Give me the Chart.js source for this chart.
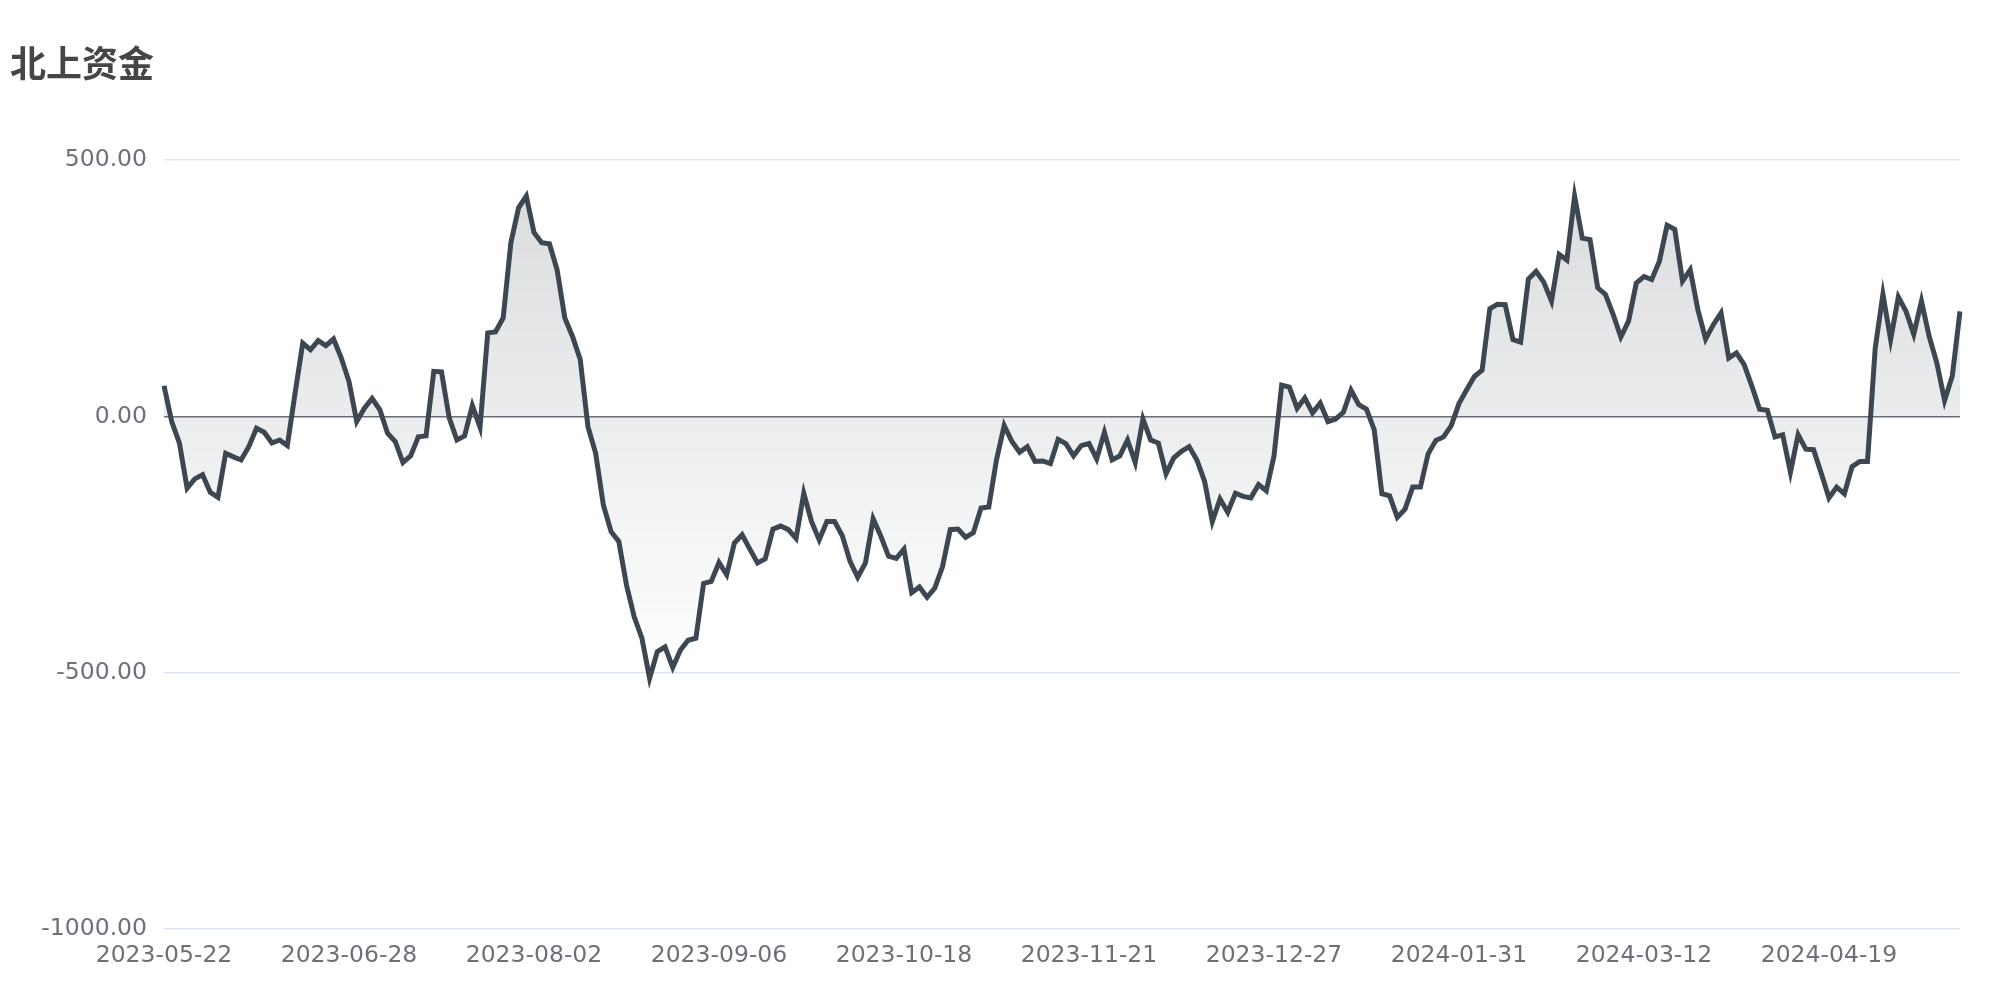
<!DOCTYPE html>
<html>
<head>
<meta charset="utf-8">
<title>北上资金</title>
<script src="https://cdn.jsdelivr.net/npm/chart.js@4.4.1/dist/chart.umd.min.js"></script>
<style>
  html, body { margin: 0; padding: 0; background: #fff; }
  #wrap { width: 2000px; height: 1000px; position: relative; }
</style>
</head>
<body>
<div id="wrap"><canvas id="flow-chart"></canvas></div>
<script>
// trading days (northbound), one entry per point
var dates = [
  '2023-05-22','2023-05-23','2023-05-24','2023-05-25',
  '2023-05-29','2023-05-30','2023-05-31','2023-06-01','2023-06-02',
  '2023-06-05','2023-06-06','2023-06-07','2023-06-08','2023-06-09',
  '2023-06-12','2023-06-13','2023-06-14','2023-06-15','2023-06-16',
  '2023-06-19','2023-06-20','2023-06-21',
  '2023-06-26','2023-06-27','2023-06-28','2023-06-29','2023-06-30',
  '2023-07-03','2023-07-04','2023-07-05','2023-07-06','2023-07-07',
  '2023-07-10','2023-07-11','2023-07-12','2023-07-13','2023-07-14',
  '2023-07-18','2023-07-19','2023-07-20','2023-07-21',
  '2023-07-24','2023-07-25','2023-07-26','2023-07-27','2023-07-28',
  '2023-07-31','2023-08-01','2023-08-02','2023-08-03','2023-08-04',
  '2023-08-07','2023-08-08','2023-08-09','2023-08-10','2023-08-11',
  '2023-08-14','2023-08-15','2023-08-16','2023-08-17','2023-08-18',
  '2023-08-21','2023-08-22','2023-08-23','2023-08-24','2023-08-25',
  '2023-08-28','2023-08-29','2023-08-30','2023-08-31',
  '2023-09-04','2023-09-05','2023-09-06','2023-09-07','2023-09-08',
  '2023-09-11','2023-09-12','2023-09-13','2023-09-14','2023-09-15',
  '2023-09-18','2023-09-19','2023-09-20','2023-09-21','2023-09-22',
  '2023-09-25','2023-09-26','2023-09-27','2023-09-28',
  '2023-10-09','2023-10-10','2023-10-11','2023-10-12','2023-10-13',
  '2023-10-16','2023-10-17','2023-10-18','2023-10-19','2023-10-20',
  '2023-10-23','2023-10-24','2023-10-25','2023-10-26','2023-10-27',
  '2023-10-30','2023-10-31','2023-11-01','2023-11-02','2023-11-03',
  '2023-11-06','2023-11-07','2023-11-08','2023-11-09','2023-11-10',
  '2023-11-13','2023-11-14','2023-11-15','2023-11-16','2023-11-17',
  '2023-11-20','2023-11-21','2023-11-22','2023-11-23','2023-11-24',
  '2023-11-27','2023-11-28','2023-11-29','2023-11-30','2023-12-01',
  '2023-12-04','2023-12-05','2023-12-06','2023-12-07','2023-12-08',
  '2023-12-11','2023-12-12','2023-12-13','2023-12-14','2023-12-15',
  '2023-12-18','2023-12-19','2023-12-20','2023-12-21','2023-12-22',
  '2023-12-27','2023-12-28','2023-12-29',
  '2024-01-02','2024-01-03','2024-01-04','2024-01-05',
  '2024-01-08','2024-01-09','2024-01-10','2024-01-11','2024-01-12',
  '2024-01-15','2024-01-16','2024-01-17','2024-01-18','2024-01-19',
  '2024-01-22','2024-01-23','2024-01-24','2024-01-25','2024-01-26',
  '2024-01-29','2024-01-30','2024-01-31','2024-02-01','2024-02-02',
  '2024-02-05','2024-02-06','2024-02-07','2024-02-08','2024-02-09',
  '2024-02-19','2024-02-20','2024-02-21','2024-02-22','2024-02-23',
  '2024-02-26','2024-02-27','2024-02-28','2024-02-29','2024-03-01',
  '2024-03-04','2024-03-05','2024-03-06','2024-03-07','2024-03-08',
  '2024-03-11','2024-03-12','2024-03-13','2024-03-14','2024-03-15',
  '2024-03-18','2024-03-19','2024-03-20','2024-03-21','2024-03-22',
  '2024-03-25','2024-03-26','2024-03-27','2024-03-28',
  '2024-04-02','2024-04-03',
  '2024-04-08','2024-04-09','2024-04-10','2024-04-11','2024-04-12',
  '2024-04-15','2024-04-16','2024-04-17','2024-04-18','2024-04-19',
  '2024-04-22','2024-04-23','2024-04-24','2024-04-25','2024-04-26',
  '2024-04-29','2024-04-30',
  '2024-05-06','2024-05-07','2024-05-08','2024-05-09','2024-05-10',
  '2024-05-13','2024-05-14','2024-05-16','2024-05-17','2024-05-20'
];

// 北上资金 values (亿元)
var flowValues = [
   60,  -10,  -52, -140, -122, -114, -148, -158,  -72,  -79,
  -85,  -59,  -23,  -31,  -52,  -46,  -57,   45,  143,  130,
  148,  138,  151,  114,   68,  -10,   16,   35,   13,  -33,
  -49,  -90,  -77,  -40,  -38,   88,   87,   -3,  -46,  -38,
   21,  -21,  163,  165,  192,  339,  407,  430,  359,  339,
  337,  286,  192,  156,  111,  -20,  -72, -173, -225, -244,
 -329, -391, -433, -511, -459, -450, -490, -456, -437, -433,
 -326, -322, -285, -309, -247, -231, -259, -286, -278, -220,
 -214, -221, -238, -150, -205, -241, -205, -205, -233, -283,
 -314, -286, -200, -234, -273, -277, -259, -344, -333, -353,
 -335, -293, -221, -220, -236, -227, -179, -177,  -85,  -18,
  -49,  -70,  -59,  -88,  -87,  -92,  -45,  -53,  -77,  -57,
  -53,  -83,  -31,  -85,  -77,  -46,  -90,   -5,  -46,  -52,
 -112,  -81,  -68,  -59,  -85, -127, -205, -161, -187, -150,
 -156, -159, -133, -145,  -78,   61,   57,   16,   36,    7,
   26,  -10,   -5,    8,   51,   23,   14,  -26, -151, -155,
 -197, -181, -138, -138,  -73,  -47,  -40,  -18,   25,   52,
   78,   90,  210,  219,  218,  150,  145,  268,  283,  262,
  225,  316,  305,  430,  348,  345,  251,  238,  199,  155,
  186,  260,  273,  267,  303,  373,  365,  264,  286,  208,
  151,  179,  202,  114,  124,  101,   59,   14,   12,  -40,
  -36, -109,  -36,  -64,  -65, -111, -159, -138, -151,  -98,
  -88,  -88,  133,  238,  150,  233,  205,  160,  225,  156,
  104,   31,   79,  205
];

var yTicks = [-1000, -500, 0, 500];
var labelEvery = 24;   // one date label every 24 trading days

var ctx = document.getElementById('flow-chart').getContext('2d');

// soft grey fill, darkest at the top of the data and fading out at the bottom
function areaFill(context) {
  var chart = context.chart;
  var y = chart.scales.y;
  if (!chart.chartArea || !y) return 'rgba(61,71,81,0.1)';
  var top = y.getPixelForValue(Math.max.apply(null, flowValues));
  var bottom = y.getPixelForValue(Math.min.apply(null, flowValues));
  var g = chart.ctx.createLinearGradient(0, top, 0, bottom);
  g.addColorStop(0, 'rgba(61,71,81,0.19)');
  g.addColorStop(1, 'rgba(61,71,81,0)');
  return g;
}

var flowChart = new Chart(ctx, {
  type: 'line',
  data: {
    labels: dates,
    datasets: [{
      label: '北上资金',
      data: flowValues,
      borderColor: '#3d4751',
      borderWidth: 5,
      pointRadius: 0,
      tension: 0,
      fill: 'origin',
      backgroundColor: areaFill
    }]
  },
  options: {
    responsive: true,
    maintainAspectRatio: false,
    animation: false,
    layout: { padding: { left: 10, right: 40, top: 0, bottom: 18 } },
    scales: {
      x: {
        grid: { display: false, drawTicks: false },
        border: { display: false },
        ticks: {
          autoSkip: false,
          maxRotation: 0,
          minRotation: 0,
          padding: 12.5,
          color: '#6e7079',
          font: { family: '"DejaVu Sans", sans-serif', size: 23.5 },
          callback: function (value, index) {
            return index % labelEvery === 0 ? dates[index] : null;
          }
        }
      },
      y: {
        min: -1000,
        max: 500,
        afterBuildTicks: function (scale) {
          scale.ticks = yTicks.map(function (v) { return { value: v }; });
        },
        afterFit: function (scale) { scale.width = 154; },
        grid: {
          drawTicks: false,
          lineWidth: 1.5,
          color: function (c) {
            return c.tick && c.tick.value === 0 ? '#6e7079' : '#e0e6f1';
          }
        },
        border: { display: false },
        ticks: {
          padding: 17,
          color: '#6e7079',
          font: { family: '"DejaVu Sans", sans-serif', size: 23.5 },
          callback: function (value) { return Number(value).toFixed(2); }
        }
      }
    },
    plugins: {
      legend: { display: false },
      tooltip: { enabled: false },
      title: {
        display: true,
        text: '北上资金',
        align: 'start',
        color: '#464646',
        font: { family: '"Noto Sans CJK SC", sans-serif', size: 36, weight: 'bold' },
        padding: { top: 42, bottom: 75 }
      }
    }
  }
});
</script>
</body>
</html>
